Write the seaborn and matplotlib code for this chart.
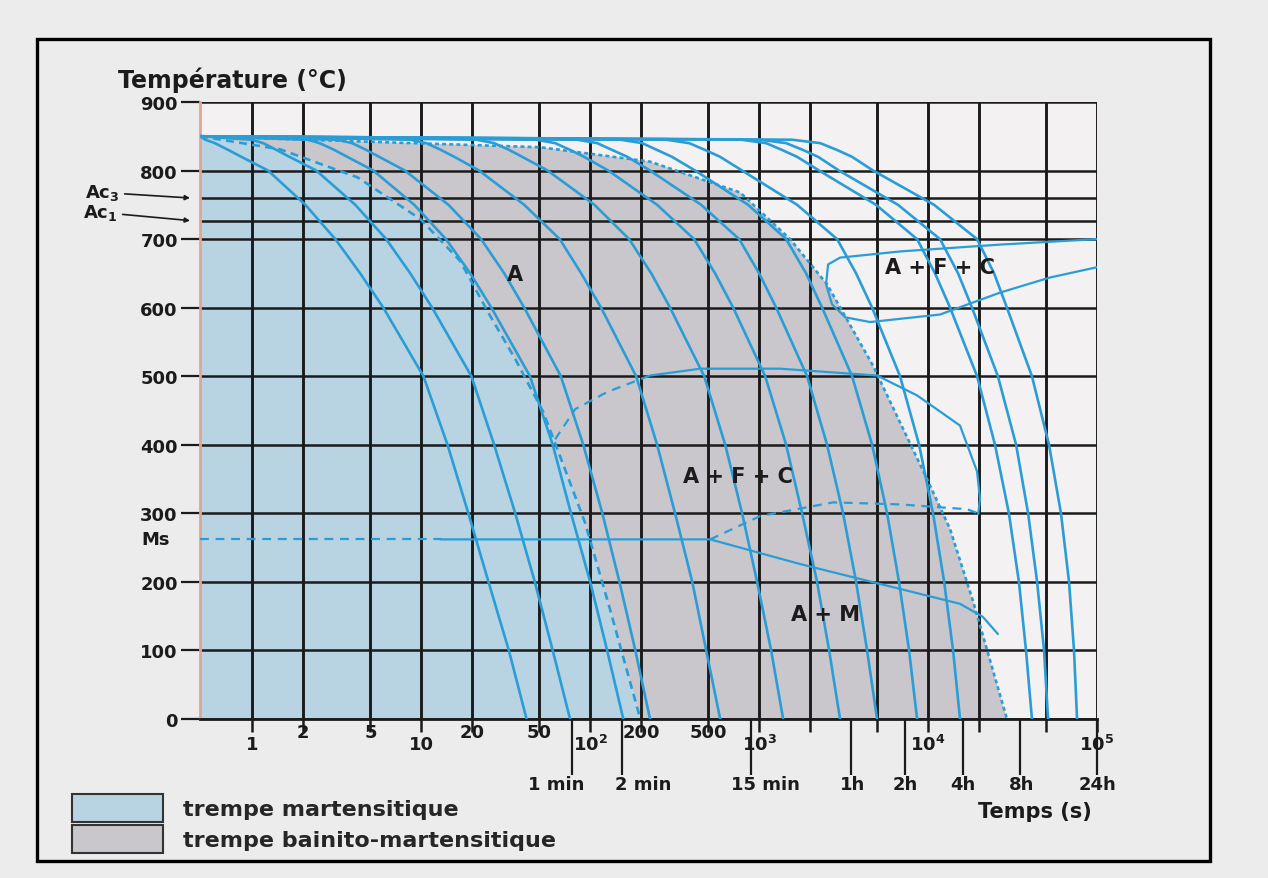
import matplotlib
matplotlib.use("Agg")
from matplotlib import pyplot as plt
from matplotlib.patches import Rectangle, Patch
import pandas as pd
import seaborn as sns

# temperature levels (°C) at which each cooling curve was read
cool_T = [850, 845, 840, 830, 820, 800, 750, 700, 650, 600, 500, 400, 300, 200, 100, 0]
# time (s) of each cooling curve at those levels, fastest first
cool_times = [
    [0.49, 0.527, 0.60, 0.721, 0.861, 1.24, 2.06, 3.1, 4.35, 5.96, 10.3, 14.3, 19, 25, 33, 42],
    [0.49, 0.987, 1.16, 1.39, 1.66, 2.39, 4.07, 6.2, 8.61, 11.6, 19.8, 27, 36, 47, 60, 76],
    [0.49, 2.12, 2.5, 3.06, 3.65, 5.2, 9.09, 14, 19.5, 26, 44, 60, 77, 100, 126, 157],
    [0.49, 3.18, 3.9, 4.73, 5.64, 8.0, 14.5, 22.6, 31, 40.7, 67, 91, 118, 149, 185, 226],
    [0.49, 8.61, 10.7, 13.1, 15.7, 22, 40.7, 66, 88.5, 116, 187, 249, 318, 402, 486, 588],
    [0.49, 21.2, 27, 33.2, 39.6, 56, 106, 170, 230, 297, 473, 630, 793, 973, 1178, 1387],
    [0.49, 47.9, 62, 76.2, 92.1, 128, 249, 412, 549, 702, 1086, 1445, 1796, 2203, 2596, 3013],
    [0.49, 83.8, 110, 135, 166, 226, 454, 762, 1000, 1262, 1923, 2524, 3140, 3750, 4355, 4990],
    [0.49, 151, 203, 249, 305, 418, 861, 1445, 1897, 2360, 3550, 4665, 5720, 6730, 7720, 8610],
    [0.49, 282, 385, 479, 588, 793, 1679, 2895, 3750, 4665, 6825, 8850, 10700, 12450, 14060, 15460],
    [0.49, 782, 1100, 1368, 1679, 2265, 4920, 8610, 11000, 13500, 19500, 24900, 30100, 34500, 38000, 41200],
    [0.49, 1014, 1445, 1820, 2234, 2970, 6640, 11770, 15060, 18200, 25900, 33200, 39100, 44200, 48600, 51300],
    [0.49, 1567, 2296, 2895, 3550, 4730, 10860, 19500, 24600, 29300, 41200, 52000, 61200, 68300, 73100, 76200],
]

# critical cooling curve, martensitic quench (dashed)
crit_m_t = [0.49, 1.46, 4.2, 9.9, 17, 24.9, 36, 52.7, 71, 93, 131, 198]
crit_m_T = [850, 831, 790, 729, 668, 593, 525, 448, 364, 287, 160, 0]
# critical cooling curve, bainito-martensitic quench (dotted)
crit_b_t = [0.49, 50.6, 226, 772, 1525, 2525, 4730, 9860, 13500, 18500, 29300]
crit_b_T = [850, 834, 813, 768, 700, 634, 515, 350, 277, 171, 0]

# ferrite / pearlite domain outline
fp_t = [1e5, 26700, 6830, 3013, 2560, 2490, 2700, 3230, 4540, 11770, 26700, 52700, 1e5]
fp_T = [700, 692, 682, 673, 663, 634, 605, 586, 579, 590, 622, 644, 659]
# bainite domain start, dashed then solid part
bs_dash_t = [62, 81.5, 126, 226]
bs_dash_T = [408, 452, 477, 501]
bs_t = [226, 448, 1331, 4990, 8610, 15460, 19500, 20300, 19800]
bs_T = [501, 511, 511, 501, 472, 428, 361, 321, 299]
# bainite lower line (dashed)
bf_t = [513, 1014, 2740, 6830, 17000, 20300]
bf_T = [262, 296, 316, 313, 306, 299]
# Ms line
ms_dash_t = [0.49, 13]
ms_dash_T = [262, 262]
ms_t = [13, 513, 1750, 5200, 15460, 21100, 25900]
ms_T = [262, 262, 226, 197, 168, 149, 124]

# grid
grid_t = [1, 2, 5, 10, 20, 50, 100, 200, 500, 1e3, 2e3, 5e3, 1e4, 2e4, 5e4, 1e5]
grid_T = [0, 100, 200, 300, 400, 500, 600, 700, 800, 900]
ac3, ac1 = 760, 727
ms_val = 262

# x labels: upper row (staggered) and time row
low_t = [1, 10, 100, 1e3, 1e4, 1e5]
low_lab = ["1", "10", "10$^2$", "10$^3$", "10$^4$", "10$^5$"]
high_t = [2, 5, 20, 50, 200, 500]
high_lab = ["2", "5", "20", "50", "200", "500"]
time_tick_t = [78, 155, 900, 3500, 7300, 16000, 35000, 1e5]
time_lab_t = [63, 206, 1086, 3550, 7310, 16100, 36000, 1e5]
time_lab = ["1 min", "2 min", "15 min", "1h", "2h", "4h", "8h", "24h"]

# region labels
reg_lab = ["A", "A + F + C", "A + F + C", "A + M"]
reg_t = [36, 11770, 751, 2460]
reg_T = [649, 659, 354, 153]

legend_lab = ["trempe martensitique", "trempe bainito-martensitique"]

BLUE = "#2b9dd6"
FILL_M = "#b8d3e2"
FILL_B = "#c9c7cb"
INK = "#1b1b1b"

sns.set_theme(style="white")
plt.rcParams["font.family"] = ["DejaVu Sans"]
plt.rcParams["font.weight"] = "bold"
plt.rcParams["mathtext.default"] = "regular"

fig = plt.figure(figsize=(12.68, 8.79), dpi=100, facecolor="#ececec")
ax = fig.add_axes([200 / 1268, 1 - 720 / 879, 897 / 1268, 617 / 879])
ax.set_facecolor("#f3f1f1")
ax.set_xscale("log")
ax.set_xlim(0.49, 1e5)
ax.set_ylim(0, 900)

# shaded domains
ax.fill([0.49] + crit_m_t + [0.49], [850] + crit_m_T + [0], color=FILL_M, lw=0, zorder=0)
ax.fill(crit_m_t + crit_b_t[::-1], crit_m_T + crit_b_T[::-1], color=FILL_B, lw=0, zorder=0)

# grid
for t in grid_t:
    ax.axvline(t, color=INK, lw=2.1, zorder=1)
for T in grid_T + [ac3, ac1]:
    ax.axhline(T, color=INK, lw=1.8, zorder=1)

# cooling curves
rows = []
for i, times in enumerate(cool_times):
    for t, T in zip(times, cool_T):
        rows.append({"curve": i, "t": t, "T": T})
cool_df = pd.DataFrame(rows)
sns.lineplot(data=cool_df, x="t", y="T", units="curve", estimator=None, sort=False,
             color=BLUE, lw=1.9, ax=ax, zorder=3)


def line(xs, ys, lw=1.6, ls="-"):
    sns.lineplot(x=xs, y=ys, sort=False, estimator=None, errorbar=None,
                 color=BLUE, lw=lw, ls=ls, ax=ax, zorder=3)


line(crit_m_t, crit_m_T, lw=1.9, ls=(0, (3, 2)))
line(crit_b_t, crit_b_T, lw=1.9, ls=(0, (1.5, 1.2)))
line(fp_t, fp_T)
line(bs_dash_t, bs_dash_T, ls=(0, (4, 3)))
line(bs_t, bs_T)
line(bf_t, bf_T, ls=(0, (4, 3)))
line(ms_dash_t, ms_dash_T, ls=(0, (4, 3)))
line(ms_t, ms_T)

for lab, t, T in zip(reg_lab, reg_t, reg_T):
    ax.text(t, T, lab, ha="center", va="center", fontsize=15, color=INK, zorder=4)

# axes, ticks
ax.set_xlabel("")
ax.set_ylabel("")
for side in ["top", "right"]:
    ax.spines[side].set_visible(False)
ax.spines["bottom"].set_color(INK)
ax.spines["bottom"].set_linewidth(2)
ax.spines["left"].set_color("#e2a592")
ax.spines["left"].set_linewidth(2)
ax.set_yticks(grid_T)
ax.set_yticklabels([str(v) for v in grid_T])
ax.tick_params(axis="y", length=14, width=1.6, color=INK, pad=2, labelsize=13, labelcolor=INK, left=True)
ax.set_xticks(grid_t)
ax.set_xticks([], minor=True)
ax.tick_params(axis="x", which="both", length=9, width=1.8, color=INK, bottom=True, labelbottom=False)

xt = ax.get_xaxis_transform()
for t, lab in zip(low_t, low_lab):
    ax.text(t, -25 / 617, lab, transform=xt, ha="center", va="center", fontsize=13, color=INK)
for t, lab in zip(high_t, high_lab):
    ax.text(t, -13 / 617, lab, transform=xt, ha="center", va="center", fontsize=13, color=INK)

# long ticks for the minute / hour scale
sec = ax.secondary_xaxis("bottom")
sec.set_xticks(time_tick_t)
sec.set_xticks([], minor=True)
sec.tick_params(axis="x", length=40, width=1.6, color=INK, labelbottom=False)
sec.spines["bottom"].set_visible(False)
for t, lab in zip(time_lab_t, time_lab):
    ax.text(t, -65 / 617, lab, transform=xt, ha="center", va="center", fontsize=13, color=INK)

yt = ax.get_yaxis_transform()
ax.text(-30 / 897, ms_val, "Ms", transform=yt, ha="right", va="center", fontsize=13, color=INK)
arrow = dict(arrowstyle="-|>", lw=1.2, color=INK, mutation_scale=7, shrinkA=1, shrinkB=0)
ax.annotate("Ac$_3$", xy=(-10 / 897, ac3), xycoords=yt, xytext=(-80 / 897, 768), textcoords=yt,
            ha="right", va="center", fontsize=13, color=INK, arrowprops=arrow)
ax.annotate("Ac$_1$", xy=(-10 / 897, ac1), xycoords=yt, xytext=(-82 / 897, 739), textcoords=yt,
            ha="right", va="center", fontsize=13, color=INK, arrowprops=arrow)

fig.text(232 / 1268, 1 - 80 / 879, "Température (°C)", ha="center", va="center", fontsize=17, color=INK)
fig.text(1035 / 1268, 1 - 812 / 879, "Temps (s)", ha="center", va="center", fontsize=15, color=INK)

handles = [Patch(facecolor=FILL_M, edgecolor="#333333", lw=1.5),
           Patch(facecolor=FILL_B, edgecolor="#333333", lw=1.5)]
fig.legend(handles, legend_lab, loc="upper left", bbox_to_anchor=(72 / 1268, 1 - 795 / 879),
           frameon=False, fontsize=16, handlelength=4.1, handleheight=1.57, handletextpad=0.9,
           labelspacing=0.12, borderpad=0, borderaxespad=0)

fig.add_artist(Rectangle((37 / 1268, 1 - 862 / 879), 1173 / 1268, 822 / 879,
                         transform=fig.transFigure, fill=False, lw=2.4, ec="black"))

fig.savefig("out.png", dpi=100, facecolor=fig.get_facecolor())
